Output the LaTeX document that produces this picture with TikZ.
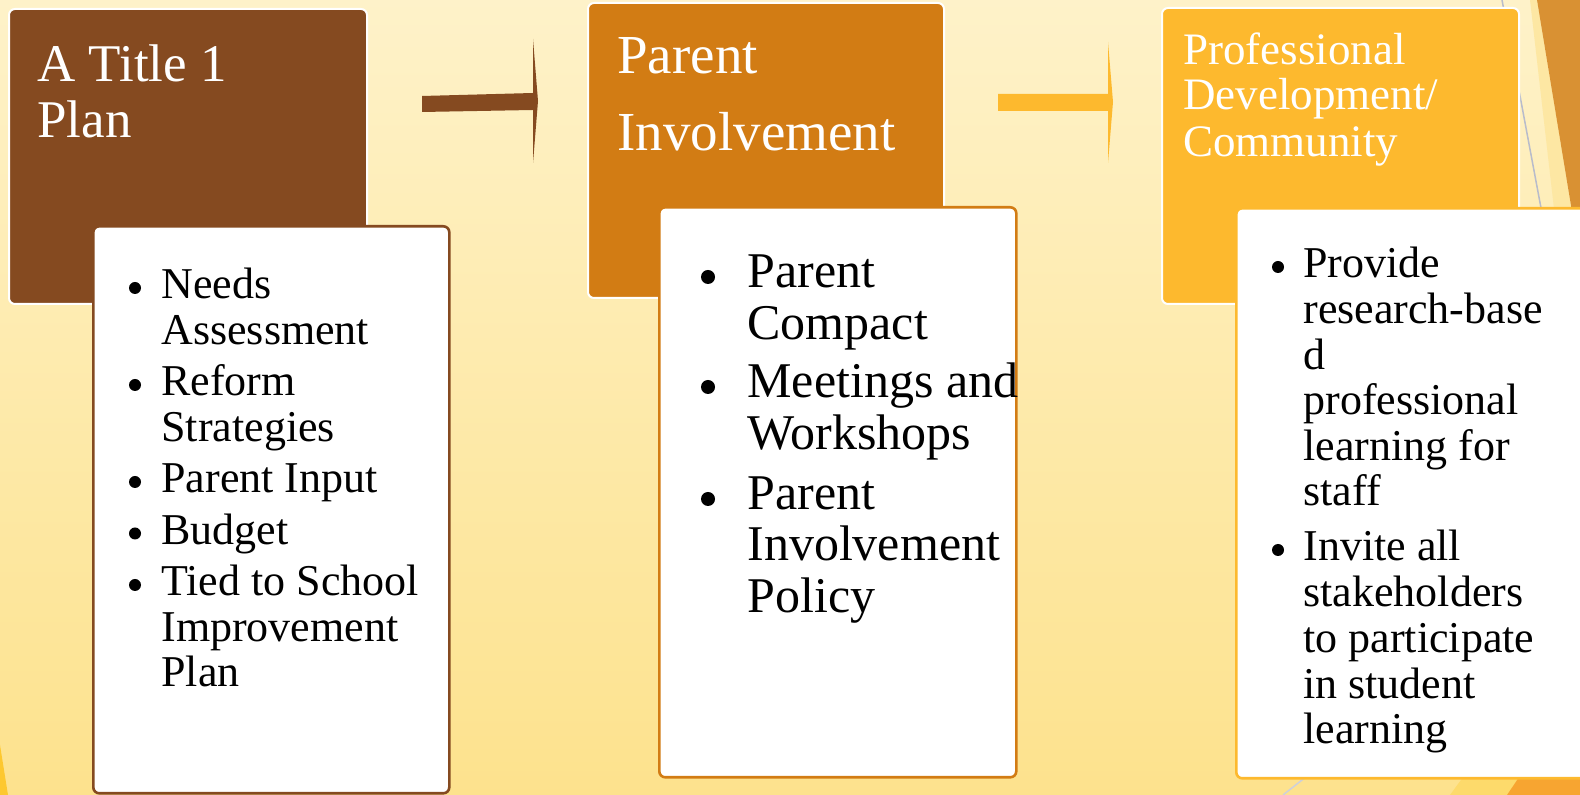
\documentclass[tikz,border=0pt]{standalone}
\usepackage{fontspec}
\setmainfont{Liberation Serif}
\definecolor{brownc}{HTML}{854A20}
\definecolor{orangec}{HTML}{D27C14}
\definecolor{goldc}{HTML}{FDB92E}
\definecolor{bgtop}{HTML}{FEF2C9}
\definecolor{bgbot}{HTML}{FDE28D}
\definecolor{darkdeco}{HTML}{D99133}
\definecolor{paledeco}{HTML}{FDE7A3}
\definecolor{yellowdeco}{HTML}{FDDA6B}
\definecolor{orangedeco}{HTML}{F7A531}
\definecolor{sliver}{HTML}{FDC830}
\definecolor{greyline}{HTML}{B8BCCB}
\begin{document}
\begin{tikzpicture}[x=0.5pt,y=-0.5pt,
  headbox/.style={draw=white, line width=1pt, rounded corners=3pt, anchor=north west, inner sep=0pt},
  listbox/.style={fill=white, line width=1.3pt, rounded corners=3pt, anchor=north west, inner sep=0pt},
  headtxt/.style={anchor=base west, inner sep=0pt, text=white},
  itemS/.style={anchor=base west, inner sep=0pt, text=black, font=\fontsize{22}{22}\selectfont},
  itemM/.style={anchor=base west, inner sep=0pt, text=black, font=\fontsize{25}{25}\selectfont},
]
\useasboundingbox (0,0) rectangle (1580,795);
\clip (0,0) rectangle (1580,795);
% background
\shade[top color=bgtop, bottom color=bgbot] (0,0) rectangle (1580,795);
% decorations
\fill[paledeco] (1530,0) -- (1537,0) -- (1580,260) -- (1580,435) -- cycle;
\fill[darkdeco] (1537,0) -- (1580,0) -- (1580,260) -- cycle;
\draw[greyline, line width=0.75pt] (1502,0) -- (1562,320);
\draw[greyline!70, line width=0.75pt] (1283,795) -- (1340,750);
\fill[yellowdeco] (1450,795) -- (1477,758) -- (1580,758) -- (1580,795) -- cycle;
\fill[orangedeco] (1507,795) -- (1532,758) -- (1580,758) -- (1580,795) -- cycle;
\fill[sliver] (0,745) -- (8,795) -- (0,795) -- cycle;

% arrows
\coordinate (a1s) at (422,104);
\coordinate (a1t) at (538,101);
\fill[brownc] (422,96) -- (533,93) -- (533,39) -- (538,101) -- (533,163) -- (533,110) -- (422,112) -- cycle;
\coordinate (a2s) at (998,102);
\coordinate (a2t) at (1113,102);
\fill[goldc] (998,94) -- (1108,94) -- (1108,42) -- (1113,102) -- (1108,163) -- (1108,111) -- (998,111) -- cycle;

% column 1
\node[headbox, fill=brownc, minimum width=179pt, minimum height=147.5pt] (h1) at (8,8) {};
\node[headtxt, font=\fontsize{26.5}{26.5}\selectfont] (h1a) at (37,82) {A Title 1};
\node[headtxt, font=\fontsize{26.5}{26.5}\selectfont] (h1b) at (37,138) {Plan};
\node[listbox, draw=brownc, minimum width=178pt, minimum height=283.5pt] (w1) at (92,225) {};
\foreach \yy in {299,396,493,544.5,596} \fill (135,\yy-11) circle[radius=3pt];
\foreach \txt/\yy [count=\i] in {Needs/299, Assessment/344.5, Reform/396, Strategies/441.5, Parent Input/493, Budget/544.5, Tied to School/596, Improvement/641.5, Plan/687}
  \node[itemS] (L\i) at (161,\yy) {\txt};

% column 2
\node[headbox, fill=orangec, minimum width=178pt, minimum height=147.5pt] (h2) at (587,2) {};
\node[headtxt, font=\fontsize{27.5}{27.5}\selectfont] (h2a) at (617,74) {Parent};
\node[headtxt, font=\fontsize{27.5}{27.5}\selectfont] (h2b) at (617,151) {Involvement};
\node[listbox, draw=orangec, minimum width=178.5pt, minimum height=285pt] (w2) at (658,206) {};
\foreach \yy in {288,398,510} \fill (708,\yy-11) circle[radius=3.5pt];
\foreach \txt/\yy [count=\i] in {Parent/288, Compact/340, Meetings and/398, Workshops/450, Parent/510, Involvement/561, Policy/613}
  \node[itemM] (M\i) at (747,\yy) {\txt};

% column 3
\node[headbox, fill=goldc, minimum width=178.5pt, minimum height=148pt] (h3) at (1161,7) {};
\node[headtxt, font=\fontsize{22.5}{22.5}\selectfont] (h3a) at (1183,65) {Professional};
\node[headtxt, font=\fontsize{22.5}{22.5}\selectfont] (h3b) at (1183,110) {Development/};
\node[headtxt, font=\fontsize{22.5}{22.5}\selectfont] (h3c) at (1183,157) {Community};
\node[listbox, draw=goldc, minimum width=178.5pt, minimum height=285pt] (w3) at (1235,207) {};
\foreach \yy in {278,561} \fill (1278,\yy-11) circle[radius=3pt];
\foreach \txt/\yy [count=\i] in {Provide/278, research-base/324, d/369.5, professional/415, learning for/460.5, staff/506, Invite all/561, stakeholders/607, to participate/653, in student/698.5, learning/744}
  \node[itemS] (R\i) at (1303,\yy) {\txt};
\end{tikzpicture}
\end{document}
